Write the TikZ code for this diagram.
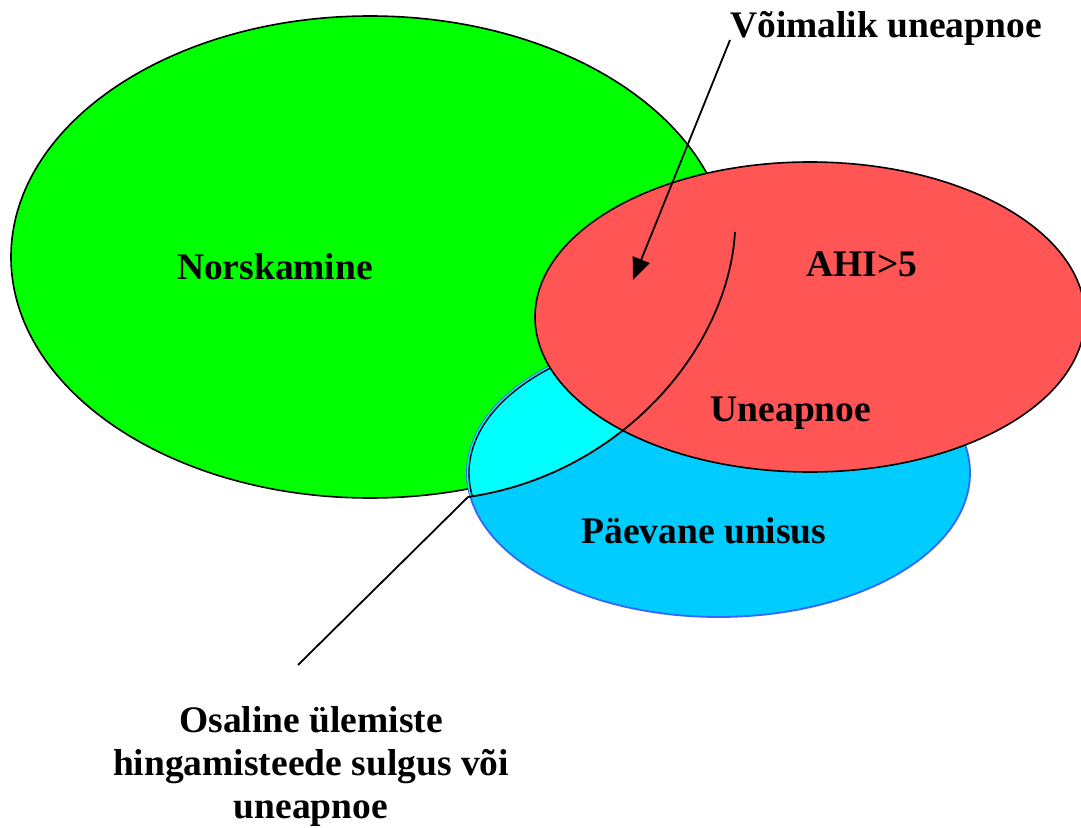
\documentclass[tikz,border=0pt]{standalone}
\usepackage{fontspec}
\setmainfont{Liberation Serif}
\usetikzlibrary{arrows.meta}
\definecolor{normgreen}{HTML}{00FF00}
\definecolor{daysky}{HTML}{00CCFF}
\definecolor{dayedge}{HTML}{3366FF}
\definecolor{overlapcyan}{HTML}{00FFFF}
\definecolor{ahired}{HTML}{FF5555}
\tikzset{
  lbl/.style={font=\fontsize{18.75}{21.5}\selectfont\bfseries, anchor=base, inner sep=0pt},
  setedge/.style={line width=0.8pt},
  pointer/.style={line width=0.9pt},
}
\begin{document}
\begin{tikzpicture}[x=0.5pt,y=-0.5pt]
\useasboundingbox (0,0) rectangle (1081,828);
% Norskamine (green)
\fill[normgreen] (370,257) ellipse [x radius=359, y radius=241];
\draw[setedge] (370,257) ellipse [x radius=359, y radius=241];
% Paevane unisus (blue)
\fill[daysky] (718.5,473) ellipse [x radius=251.5, y radius=144];
\draw[dayedge, line width=0.9pt] (718.5,473) ellipse [x radius=251.5, y radius=144];
% cyan overlap region
\begin{scope}
  \clip (735,232) .. controls (728,350) and (620,475) .. (468,497) -- (400,510) -- (400,200) -- (735,200) -- cycle;
  \clip (718.5,473) ellipse [x radius=251.5, y radius=144];
  \fill[overlapcyan] (718.5,473) ellipse [x radius=251.5, y radius=144];
  \draw[line width=0.7pt] (718.5,473) ellipse [x radius=249.5, y radius=142];
\end{scope}
% AHI>5 (red)
\fill[ahired] (810,317) ellipse [x radius=275, y radius=155];
\draw[setedge] (810,317) ellipse [x radius=275, y radius=155];
% dividing curve
\coordinate (curvetop) at (735,232);
\coordinate (corner) at (468,497);
\draw[pointer] (curvetop) .. controls (728,350) and (620,475) .. (corner);
% labels
\node[lbl] (norsk) at (275,280) {Norskamine};
\node[lbl] (ahi) at (862,277) {AHI>5};
\node[lbl] (unea) at (791,422) {Uneapnoe};
\node[lbl] (paev) at (704,543) {Päevane unisus};
\node[lbl] (voim) at (886,38) {Võimalik uneapnoe};
\node[lbl, align=center, anchor=north] (osal) at (311,706) {Osaline ülemiste\\hingamisteede sulgus või\\uneapnoe};
% pointers
\coordinate (arrstart) at (730,40);
\coordinate (arrtip) at (633,280);
\draw[pointer, -{Triangle[length=11pt, width=9pt]}] (arrstart) -- (arrtip);
\coordinate (lineend) at (298,665);
\draw[pointer] (corner) -- (lineend);
\end{tikzpicture}
\end{document}
